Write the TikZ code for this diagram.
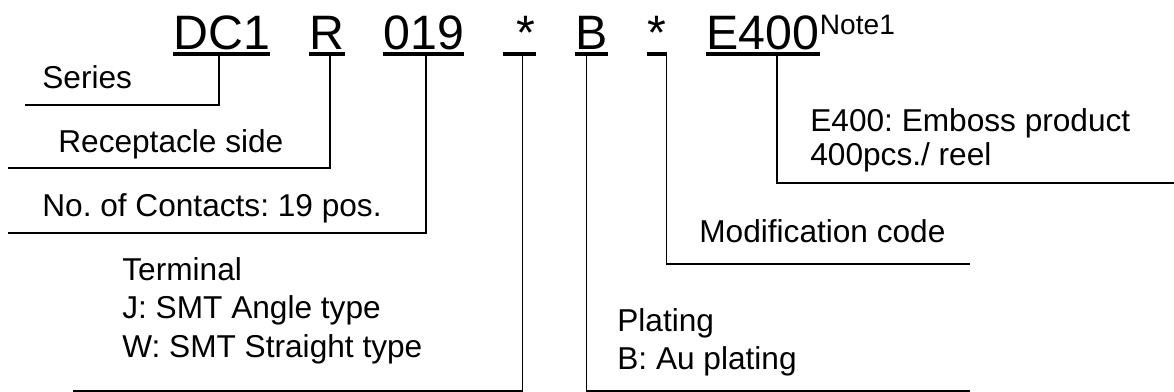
\documentclass[tikz,border=0pt]{standalone}
\usepackage{fontspec}
\setmainfont{Liberation Sans}
\frenchspacing

\begin{document}
\begin{tikzpicture}[%
		x=0.02cm, y=-0.02cm,
		code/.style={
			font=\fontsize{27.5}{33}\selectfont,
			inner sep=0pt,
			text depth=0pt,
			anchor=base west
		},
		note/.style={
			font=\fontsize{16}{19}\selectfont,
			inner sep=0pt,
			anchor=base west
		},
		desc/.style={
			font=\fontsize{18}{21.8}\selectfont,
			inner sep=0pt,
			anchor=north west,
			align=left
		},
		uline/.style={
			line width=2.3pt
		},
		lead/.style={
			line width=1pt
		}]

		\useasboundingbox (0,0) rectangle (1174,392);

		% PART NUMBER

		\node (C-DC1) [code] at (173,50) {DC1};
		\node (C-R) [code] at (309,50) {R};
		\node (C-019) [code] at (383,50) {019};
		\node (C-star-I) [code] at (503,50) {\ *};
		\node (C-B) [code] at (575,50) {B};
		\node (C-star-II) [code] at (647,50) {*};
		\node (C-E400) [code] at (706,50) {E400};
		\node (N-note1) [note] at ([yshift=9pt]C-E400.base east) {Note1};

		\foreach \c in {DC1, R, 019, star-I, B, star-II, E400}
			\draw[uline] ([yshift=-2.3pt]C-\c.base west) -- ([yshift=-2.3pt]C-\c.base east);

		% TAPS

		\foreach \c/\dx in {DC1/-1.4, R/1.9, 019/1.4, star-I/1.7, B/-2.8, E400/8}
			\coordinate (T-\c) at ([xshift=\dx pt, yshift=-2.3pt]C-\c.base);
		\coordinate (T-star-II) at ([yshift=-2.3pt]C-star-II.base east);

		% LABELS

		\node (L-series) [desc] at (42,65.3) {Series};
		\node (L-recept) [desc] at (58,129.3) {Receptacle side};
		\node (L-contacts) [desc] at (42,193.3) {No. of Contacts: 19 pos.};
		\node (L-terminal) [desc] at (122,257.3) {Terminal\\J: SMT Angle type\\W: SMT Straight type};
		\node (L-plating) [desc] at (617,308.3) {Plating\\B: Au plating};
		\node (L-modif) [desc] at (699,219.3) {Modification code};
		\node (L-emboss) [desc, font=\fontsize{18}{19.3}\selectfont] at (810,108.3) {E400: Emboss product\\400pcs./ reel};

		% LINE ENDS

		\coordinate (E-series) at (25,105);
		\coordinate (E-recept) at (8,168);
		\coordinate (E-contacts) at (8,233);
		\coordinate (E-terminal) at (73,391);
		\coordinate (E-plating) at (970,391);
		\coordinate (E-modif) at (970,264);
		\coordinate (E-emboss) at (1174,183);

		% LEADERS

		\draw[lead] (T-DC1) |- (E-series);
		\draw[lead] (T-R) |- (E-recept);
		\draw[lead] (T-019) |- (E-contacts);
		\draw[lead] (T-star-I) |- (E-terminal);
		\draw[lead] (T-B) |- (E-plating);
		\draw[lead] (T-star-II) |- (E-modif);
		\draw[lead] (T-E400) |- (E-emboss);
\end{tikzpicture}
\end{document}
